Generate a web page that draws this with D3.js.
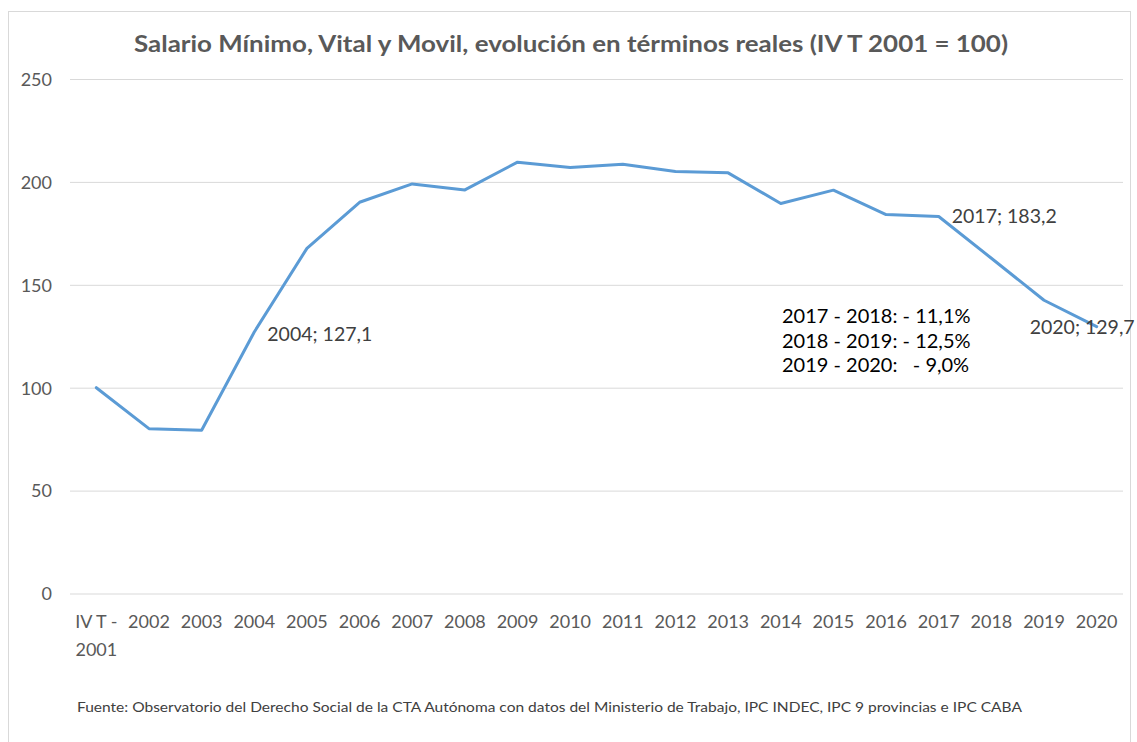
<!DOCTYPE html>
<html>
<head>
<meta charset="utf-8">
<script src="https://cdn.jsdelivr.net/npm/d3@7"></script>
<style>
  html, body { margin: 0; padding: 0; background: #fff; }
  svg { display: block; }
  text { font-family: Lato, "Open Sans", sans-serif; }
</style>
</head>
<body>
<svg id="chart" width="1137" height="742"></svg>
<script>
const categories = ["IV T - 2001", "2002", "2003", "2004", "2005", "2006", "2007", "2008", "2009", "2010",
  "2011", "2012", "2013", "2014", "2015", "2016", "2017", "2018", "2019", "2020"];
const values = [100, 80.1, 79.3, 127.1, 167.7, 190.1, 199.0, 196.1, 209.6, 207.0,
  208.6, 205.0, 204.4, 189.5, 196.0, 184.1, 183.2, 162.9, 142.5, 129.7];
const yTicks = [0, 50, 100, 150, 200, 250];
const pointLabels = [
  { cat: "2004", text: "2004; 127,1" },
  { cat: "2017", text: "2017; 183,2" },
  { cat: "2020", text: "2020; 129,7" }
];
const noteLines = ["2017 - 2018: - 11,1%", "2018 - 2019: - 12,5%", "2019 - 2020:   - 9,0%"];
const titleText = "Salario Mínimo, Vital y Movil, evolución en términos reales (IV T 2001 = 100)";
const sourceText = "Fuente: Observatorio del Derecho Social de la CTA Autónoma con datos del Ministerio de Trabajo, IPC INDEC, IPC 9 provincias e IPC CABA";

const svg = d3.select("#chart");

// outer frame
svg.append("rect")
  .attr("x", 8.5).attr("y", 11.5).attr("width", 1122).attr("height", 760)
  .attr("fill", "#fff").attr("stroke", "#d9d9d9").attr("stroke-width", 1);

const x = d3.scaleBand().domain(categories).range([70, 1123]).padding(0);
const cx = c => x(c) + x.bandwidth() / 2;
const y = d3.scaleLinear().domain([0, 250]).range([593.5, 79]);

// gridlines
const yAxis = d3.axisLeft(y).tickValues(yTicks).tickSize(-(1123 - 70)).tickPadding(18).tickFormat(d3.format("d"));
const gy = svg.append("g").attr("transform", "translate(70,0)").call(yAxis);
gy.select(".domain").remove();
gy.selectAll(".tick line").attr("stroke", "#d9d9d9").attr("stroke-width", 1);
gy.selectAll(".tick text")
  .attr("fill", "#595959").attr("font-size", "18px")
  .attr("font-family", "Lato, sans-serif")
  .attr("x", -18).attr("dy", "0.35em");

// x axis labels
const xAxis = d3.axisBottom(x).tickSize(0).tickPadding(0);
const gx = svg.append("g").attr("transform", "translate(0,593.5)").call(xAxis);
gx.select(".domain").remove();
gx.selectAll(".tick text").each(function(d) {
  const t = d3.select(this);
  t.text(null).attr("fill", "#595959").attr("font-size", "18px")
    .attr("font-family", "Lato, sans-serif").attr("y", 0).attr("dy", null);
  if (d === "IV T - 2001") {
    t.append("tspan").attr("x", 0).attr("y", 34).attr("xml:space", "preserve").style("white-space", "pre").text("IV T -");
    t.append("tspan").attr("x", 0).attr("y", 62).text("2001");
  } else {
    t.append("tspan").attr("x", 0).attr("y", 34).text(d);
  }
});

// line
const line = d3.line().x((d, i) => cx(categories[i])).y(d => y(d));
svg.append("path")
  .datum(values)
  .attr("d", line)
  .attr("fill", "none")
  .attr("stroke", "#5b9bd5")
  .attr("stroke-width", 3)
  .attr("stroke-linejoin", "round")
  .attr("stroke-linecap", "round");

// point labels
const labelOffsets = { "2004": [13, 9], "2017": [13, 7], "2020": [-67, 7] };
pointLabels.forEach(p => {
  const i = categories.indexOf(p.cat);
  const off = labelOffsets[p.cat];
  svg.append("text")
    .attr("x", cx(p.cat) + off[0])
    .attr("y", y(values[i]) + off[1])
    .attr("fill", "#404040")
    .attr("font-size", "19.5px")
    .text(p.text);
});

// note box
noteLines.forEach((t, i) => {
  svg.append("text")
    .attr("x", 782).attr("y", 323 + i * 24.5)
    .attr("fill", "#000").attr("font-size", "20px")
    .attr("xml:space", "preserve")
    .style("white-space", "pre")
    .text(t);
});

// title
const title = svg.append("text")
  .attr("x", 571).attr("y", 52)
  .attr("text-anchor", "middle")
  .attr("fill", "#595959")
  .attr("font-weight", "bold")
  .attr("font-size", "22px")
  .text(titleText);
title.attr("textLength", 874).attr("lengthAdjust", "spacingAndGlyphs");

// source
svg.append("text")
  .attr("x", 77).attr("y", 712)
  .attr("fill", "#404040")
  .attr("font-size", "13px")
  .attr("textLength", 945).attr("lengthAdjust", "spacingAndGlyphs")
  .text(sourceText);
</script>
</body>
</html>
